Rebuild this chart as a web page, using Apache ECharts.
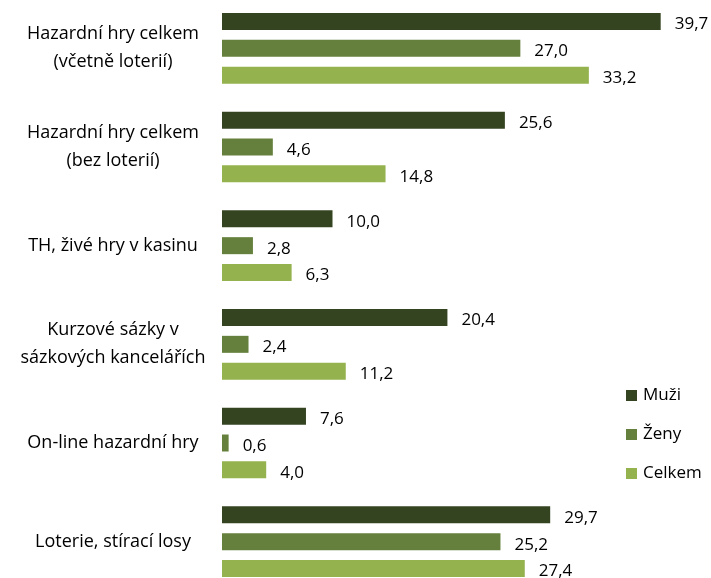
<!DOCTYPE html>
<html>
<head>
<meta charset="utf-8">
<script src="https://cdn.jsdelivr.net/npm/echarts@6/dist/echarts.min.js"></script>
<style>
  html, body { margin: 0; padding: 0; background: #fff; }
  #chart { width: 711px; height: 578px; }
</style>
</head>
<body>
<div id="chart"></div>
<script>
  // kategorie a hodnoty (%)
  var categories = [
    'Hazardní hry celkem\n(včetně loterií)',
    'Hazardní hry celkem\n(bez loterií)',
    'TH, živé hry v kasinu',
    'Kurzové sázky v\nsázkových kancelářích',
    'On-line hazardní hry',
    'Loterie, stírací losy'
  ]
  var muzi = [39.7, 25.6, 10.0, 20.4, 7.6, 29.7]
  var zeny = [27.0, 4.6, 2.8, 2.4, 0.6, 25.2]
  var celkem = [33.2, 14.8, 6.3, 11.2, 4.0, 27.4]

  var font = 'Open Sans'

  function fmt(p) {
    return p.value.toFixed(1).replace('.', ',')
  }

  function serie(name, data, color) {
    return {
      name: name,
      type: 'bar',
      data: data,
      barWidth: 17,
      barGap: '58%',
      itemStyle: { color: color },
      label: {
        show: true,
        position: 'right',
        distance: 14,
        offset: [0, 3],
        formatter: fmt,
        color: '#000',
        fontFamily: font,
        fontSize: 17
      }
    }
  }

  var chart = echarts.init(document.getElementById('chart'))
  chart.setOption({
    animation: false,
    grid: { left: 222, width: 442, top: -1, height: 592, containLabel: false, outerBoundsMode: 'none' },
    legend: {
      orient: 'vertical',
      left: 626,
      top: 387,
      padding: 0,
      itemWidth: 11,
      itemHeight: 11,
      itemGap: 22,
      icon: 'rect',
      textStyle: { fontFamily: font, fontSize: 17, color: '#000', padding: [0, 0, 0, 1] },
      data: ['Muži', 'Ženy', 'Celkem']
    },
    xAxis: {
      type: 'value',
      min: 0,
      max: 40,
      show: false
    },
    yAxis: {
      type: 'category',
      inverse: true,
      data: categories,
      axisLine: { show: false },
      axisTick: { show: false },
      axisLabel: {
        align: 'center',
        margin: 109,
        lineHeight: 28,
        padding: [5, 0, 0, 0],
        fontFamily: font,
        fontSize: 18,
        color: '#000'
      }
    },
    series: [
      serie('Muži', muzi, '#344420'),
      serie('Ženy', zeny, '#64803c'),
      serie('Celkem', celkem, '#94b24e')
    ]
  })
</script>
</body>
</html>
